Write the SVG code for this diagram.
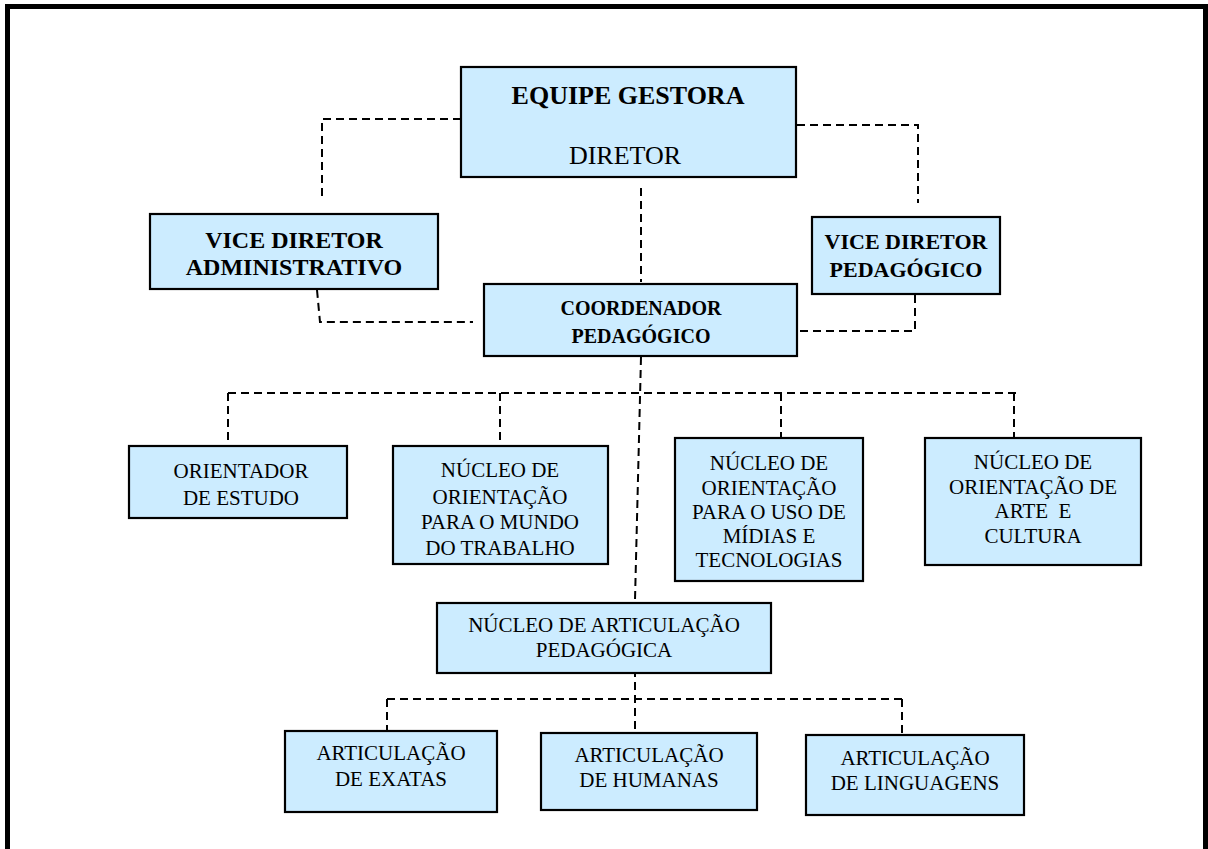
<svg xmlns="http://www.w3.org/2000/svg" width="1208" height="849" viewBox="0 0 1208 849">
<style>
.box{fill:#CCECFF;stroke:#000;stroke-width:2.2}
.t{font-family:"Liberation Serif","Times New Roman",serif;fill:#000;text-anchor:middle}
.b{font-weight:bold}
.r{font-size:21px}
.c{fill:none;stroke:#000;stroke-width:2;stroke-dasharray:8 5}
.frame{fill:none;stroke:#000;stroke-width:5}
</style>
<rect width="1208" height="849" fill="#fff"/>
<path class="frame" d="M7.5,849 V6.5 H1205.5 V849"/>
<g id="connectors">
<path class="c" d="M461,119 H322 V198"/>
<path class="c" d="M797,125 H918 V203"/>
<path class="c" d="M641,188 V282"/>
<path class="c" d="M317,290 L320,322 H473"/>
<path class="c" d="M915,295 V331 H798"/>
<path class="c" d="M228,393 H1021"/>
<path class="c" d="M228,393 V445"/>
<path class="c" d="M500,393 V445"/>
<path class="c" d="M781,393 V470"/>
<path class="c" d="M1014,393 V437"/>
<path class="c" d="M641,357 L635,600 V733"/>
<path class="c" d="M387,699 H902"/>
<path class="c" d="M387,699 V731"/>
<path class="c" d="M902,699 V735"/>
</g>
<g id="equipe">
<rect class="box" x="461" y="67" width="335" height="110"/>
<text class="t b" x="628" y="104" font-size="26">EQUIPE GESTORA</text>
<text class="t" x="625" y="164" font-size="26">DIRETOR</text>
</g>
<g id="vice-adm">
<rect class="box" x="150" y="214" width="288" height="75"/>
<text class="t b" x="294" y="248" font-size="24">VICE DIRETOR</text>
<text class="t b" x="294" y="275" font-size="24">ADMINISTRATIVO</text>
</g>
<g id="vice-ped">
<rect class="box" x="812" y="217" width="188" height="77"/>
<text class="t b" x="906" y="249" font-size="22">VICE DIRETOR</text>
<text class="t b" x="906" y="277" font-size="22">PEDAGÓGICO</text>
</g>
<g id="coordenador">
<rect class="box" x="484" y="284" width="313" height="72"/>
<text class="t b" x="641" y="315" font-size="20">COORDENADOR</text>
<text class="t b" x="641" y="343" font-size="20">PEDAGÓGICO</text>
</g>
<g id="orientador">
<rect class="box" x="129" y="446" width="218" height="72"/>
<text class="t r" x="241" y="478">ORIENTADOR</text>
<text class="t r" x="241" y="505">DE ESTUDO</text>
</g>
<g id="nucleo-trabalho">
<rect class="box" x="393" y="446" width="215" height="118"/>
<text class="t r" x="500" y="477">NÚCLEO DE</text>
<text class="t r" x="500" y="504">ORIENTAÇÃO</text>
<text class="t r" x="500" y="529">PARA O MUNDO</text>
<text class="t r" x="500" y="555">DO TRABALHO</text>
</g>
<g id="nucleo-midias">
<rect class="box" x="675" y="438" width="188" height="143"/>
<text class="t r" x="769" y="470">NÚCLEO DE</text>
<text class="t r" x="769" y="495">ORIENTAÇÃO</text>
<text class="t r" x="769" y="519">PARA O USO DE</text>
<text class="t r" x="769" y="543">MÍDIAS E</text>
<text class="t r" x="769" y="567">TECNOLOGIAS</text>
</g>
<g id="nucleo-arte">
<rect class="box" x="925" y="438" width="216" height="127"/>
<text class="t r" x="1033" y="469">NÚCLEO DE</text>
<text class="t r" x="1033" y="494">ORIENTAÇÃO DE</text>
<text class="t r" x="1033" y="518" style="white-space:pre">ARTE  E</text>
<text class="t r" x="1033" y="543">CULTURA</text>
</g>
<g id="nucleo-articulacao">
<rect class="box" x="437" y="603" width="334" height="70"/>
<text class="t r" x="604" y="632">NÚCLEO DE ARTICULAÇÃO</text>
<text class="t r" x="604" y="657">PEDAGÓGICA</text>
</g>
<g id="exatas">
<rect class="box" x="285" y="731" width="212" height="81"/>
<text class="t r" x="391" y="760">ARTICULAÇÃO</text>
<text class="t r" x="391" y="786">DE EXATAS</text>
</g>
<g id="humanas">
<rect class="box" x="541" y="733" width="216" height="77"/>
<text class="t r" x="649" y="762">ARTICULAÇÃO</text>
<text class="t r" x="649" y="787">DE HUMANAS</text>
</g>
<g id="linguagens">
<rect class="box" x="806" y="735" width="218" height="80"/>
<text class="t r" x="915" y="765">ARTICULAÇÃO</text>
<text class="t r" x="915" y="790">DE LINGUAGENS</text>
</g>
</svg>
